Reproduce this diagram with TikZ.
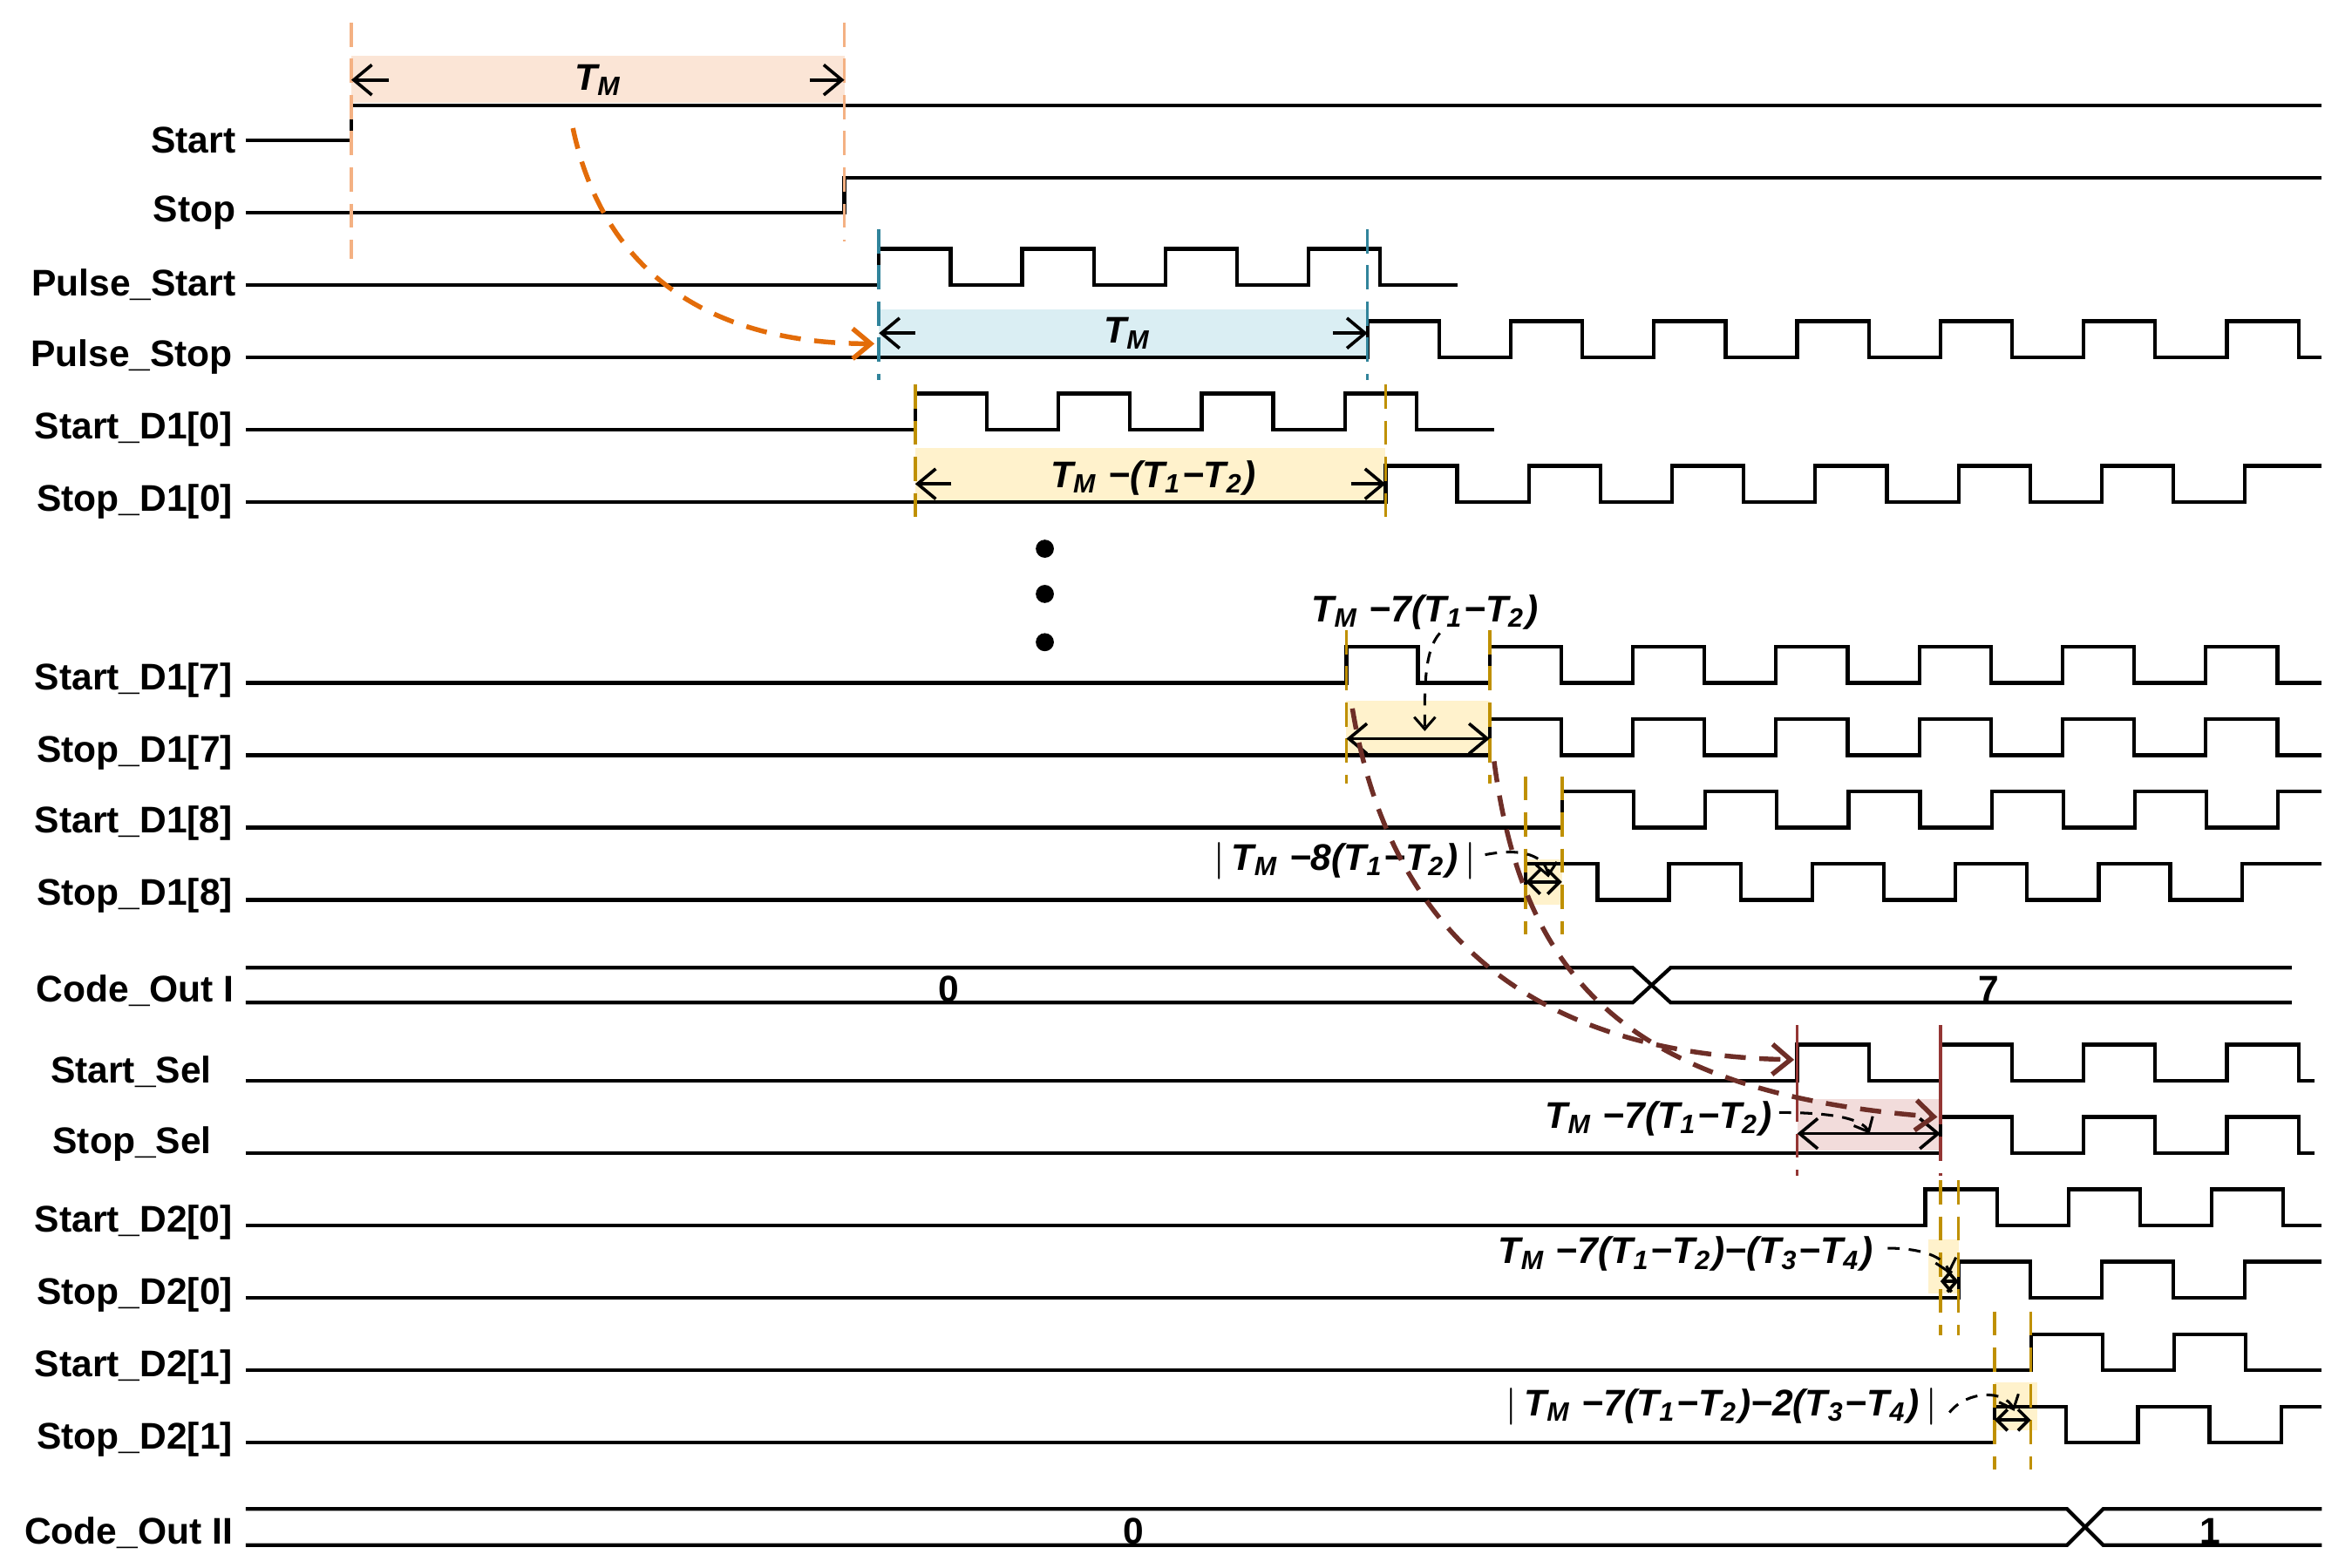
\documentclass[tikz,border=0pt]{standalone}
\usepackage{fontspec}
\setmainfont{Liberation Sans}
\usetikzlibrary{arrows.meta}
\definecolor{peachF}{HTML}{FBE5D6}
\definecolor{peachD}{HTML}{F4B183}
\definecolor{orangeC}{HTML}{E36C09}
\definecolor{blueF}{HTML}{DAEEF3}
\definecolor{tealD}{HTML}{31849B}
\definecolor{goldD}{HTML}{BF9000}
\definecolor{goldF}{HTML}{FFF2CC}
\definecolor{brownC}{HTML}{6E2E27}
\definecolor{redD}{HTML}{943634}
\definecolor{pinkF}{HTML}{F2DCDB}
\newcommand{\Ts}[1]{\textit{T}\textsubscript{\textit{#1}}}
\newcommand{\waveL}[6]{\draw[sig] (#2,#1) \foreach \k in {1,...,#4}{ -- ({#3+95*(\k-1)},#1) -- ++(0,-24) -- ++(47.5,0) -- ++(0,24)} -- (#5,#1);}
\newcommand{\waveH}[6]{\draw[sig] (#2,#1) \foreach \k in {1,...,#4}{ -- ({#3+95*(\k-1)},#1) -- ++(0,-24) -- ++(47.5,0) -- ++(0,24)} -- ({#3+95*#4},#1) -- ++(0,-24) -- (#5,{#1-24});}
\begin{document}
\begin{tikzpicture}[x=0.1mm,y=-0.1mm,
  sig/.style={line width=0.7pt,line join=miter},
  lbl/.style={anchor=east,inner sep=0pt,font=\fontsize{7}{8}\selectfont\bfseries},
  mlbl/.style={inner sep=0pt,font=\fontsize{7}{8}\selectfont\bfseries\itshape},
  vd/.style={line width=0.6pt,dash pattern=on 1.6mm off 0.8mm},
  dim/.style={line width=0.6pt,{Straight Barb[length=1.2mm,width=2mm]}-{Straight Barb[length=1.2mm,width=2mm]}},
  sarr/.style={line width=0.6pt,-{Straight Barb[length=1.2mm,width=2mm]}},
  carr/.style={line width=0.5pt,dash pattern=on 0.8mm off 0.6mm,-{Straight Barb[length=0.8mm,width=1.4mm]}},
  bcarr/.style={line width=0.9pt,brownC,dash pattern=on 1.4mm off 0.9mm,-{Straight Barb[length=1.2mm,width=2mm]}}]
\useasboundingbox (0,0) rectangle (1560,1040);
% shaded regions
\fill[peachF] (233,37) rectangle (560,68);
\fill[blueF] (583,205) rectangle (907,237);
\fill[goldF] (607,297) rectangle (919,333);
\fill[goldF] (893,465) rectangle (988,501);
\fill[goldF] (1012,570) rectangle (1036,600);
\fill[pinkF] (1192,729) rectangle (1287,763);
\fill[goldF] (1279,822) rectangle (1299,858);
\fill[goldF] (1323,917) rectangle (1351,949);
% labels
\node[lbl] (l1) at (157,93) {Start};
\node[lbl] (l2) at (157,141) {Stop};
\node[lbl] (l3) at (157,189) {Pulse\_Start};
\node[lbl] (l4) at (155,237) {Pulse\_Stop};
\node[lbl] (l5) at (155,285) {Start\_D1[0]};
\node[lbl] (l6) at (155,333) {Stop\_D1[0]};
\node[lbl] (l7) at (155,451) {Start\_D1[7]};
\node[lbl] (l8) at (155,499) {Stop\_D1[7]};
\node[lbl] (l9) at (155,546) {Start\_D1[8]};
\node[lbl] (l10) at (155,594) {Stop\_D1[8]};
\node[lbl] (l11) at (156,657) {Code\_Out I};
\node[lbl] (l12) at (141,711) {Start\_Sel};
\node[lbl] (l13) at (141,759) {Stop\_Sel};
\node[lbl] (l14) at (155,811) {Start\_D2[0]};
\node[lbl] (l15) at (155,859) {Stop\_D2[0]};
\node[lbl] (l16) at (155,907) {Start\_D2[1]};
\node[lbl] (l17) at (155,955) {Stop\_D2[1]};
\node[lbl] (l18) at (155,1017) {Code\_Out II};
% signals
\draw[sig] (163,93) -- (233,93) -- (233,70) -- (1540,70);
\draw[sig] (163,141) -- (560,141) -- (560,118) -- (1540,118);
\waveL{189}{163}{583}{4}{967}{}
\waveL{237}{163}{907}{7}{1540}{}
\waveL{285}{163}{607}{4}{991}{}
\waveH{333}{163}{919}{6}{1540}{}
\waveL{453}{163}{893}{7}{1540}{}
\waveL{501}{163}{988}{6}{1540}{}
\waveH{549}{163}{1036}{5}{1540}{}
\waveH{597}{163}{1012}{5}{1540}{}
\waveL{717}{163}{1192}{4}{1535}{}
\waveL{765}{163}{1287}{3}{1535}{}
\waveL{813}{163}{1277}{3}{1540}{}
\waveH{861}{163}{1299}{2}{1540}{}
\waveL{909}{163}{1347}{2}{1540}{}
\waveH{957}{163}{1323}{2}{1540}{}
% code buses
\draw[sig] (163,642) -- (1083,642) -- (1108,665) -- (1520,665);
\draw[sig] (163,665) -- (1083,665) -- (1108,642) -- (1520,642);
\node[mlbl,font=\fontsize{7}{8}\selectfont\bfseries] (c0) at (629,656) {0};
\node[mlbl,font=\fontsize{7}{8}\selectfont\bfseries] (c7) at (1319,656) {7};
\draw[sig] (163,1001) -- (1371,1001) -- (1395,1025) -- (1540,1025);
\draw[sig] (163,1025) -- (1371,1025) -- (1395,1001) -- (1540,1001);
\node[mlbl,font=\fontsize{7}{8}\selectfont\bfseries] (c0b) at (752,1016) {0};
\node[mlbl,font=\fontsize{7}{8}\selectfont\bfseries] (c1) at (1466,1016) {1};
% dashed verticals
\draw[vd,peachD] (233,15) -- (233,172);
\draw[vd,peachD] (560,15) -- (560,160);
\draw[vd,tealD] (583,152) -- (583,252);
\draw[vd,tealD] (907,152) -- (907,252);
\draw[vd,goldD] (607,255) -- (607,347);
\draw[vd,goldD] (919,255) -- (919,347);
\draw[vd,goldD] (893,418) -- (893,520);
\draw[vd,goldD] (988,418) -- (988,520);
\draw[vd,goldD] (1012,515) -- (1012,620);
\draw[vd,goldD] (1036,515) -- (1036,620);
\draw[line width=0.6pt,redD] (1192,680) -- (1192,728);
\draw[line width=0.6pt,redD] (1287,680) -- (1287,730);
\draw[vd,redD] (1192,728) -- (1192,780);
\draw[vd,redD] (1287,730) -- (1287,780);
\draw[vd,goldD] (1287,783) -- (1287,886);
\draw[vd,goldD] (1299,783) -- (1299,886);
\draw[vd,goldD] (1323,870) -- (1323,975);
\draw[vd,goldD] (1347,870) -- (1347,975);
% dims
\coordinate (a1) at (258,53); \coordinate (a2) at (233,53);
\coordinate (a3) at (537,53); \coordinate (a4) at (560,53);
\draw[sarr] (a1) -- (a2); \draw[sarr] (a3) -- (a4);
\node[mlbl] (t1) at (397,53) {\Ts{M}};
\coordinate (b1) at (607,221); \coordinate (b2) at (583,221);
\coordinate (b3) at (884,221); \coordinate (b4) at (907,221);
\draw[sarr] (b1) -- (b2); \draw[sarr] (b3) -- (b4);
\node[mlbl] (t2) at (748,221) {\Ts{M}};
\coordinate (d1) at (631,321); \coordinate (d2) at (607,321);
\coordinate (d3) at (896,321); \coordinate (d4) at (919,321);
\draw[sarr] (d1) -- (d2); \draw[sarr] (d3) -- (d4);
\node[mlbl] (t3) at (765,317) {\Ts{M} −(\Ts{1}−\Ts{2})};
\coordinate (e1) at (893,490); \coordinate (e2) at (988,490);
\draw[dim] (e1) -- (e2);
\node[mlbl] (t4) at (945,406) {\Ts{M} −7(\Ts{1}−\Ts{2})};
\coordinate (e3) at (955,420); \coordinate (e4) at (945,485);
\draw[carr] (e3) .. controls (944,432) and (945,460) .. (e4);
\coordinate (f1) at (1012,585); \coordinate (f2) at (1036,585);
\draw[dim,{Straight Barb[length=0.8mm,width=1.6mm]}-{Straight Barb[length=0.8mm,width=1.6mm]}] (f1) -- (f2);
\node[mlbl] (t5) at (892,571) {$|$\,\Ts{M} −8(\Ts{1}−\Ts{2})\,$|$};
\coordinate (f3) at (985,567); \coordinate (f4) at (1027,582);
\draw[carr] (f3) .. controls (1010,562) and (1025,568) .. (f4);
\coordinate (g1) at (1192,752); \coordinate (g2) at (1287,752);
\draw[dim] (g1) -- (g2);
\node[mlbl] (t6) at (1100,742) {\Ts{M} −7(\Ts{1}−\Ts{2})};
\coordinate (g3) at (1180,738); \coordinate (g4) at (1240,752);
\draw[carr] (g3) .. controls (1215,738) and (1235,742) .. (g4);
\coordinate (h1) at (1287,850); \coordinate (h2) at (1299,850);
\draw[line width=0.6pt,{Straight Barb[length=0.6mm,width=1.4mm]}-{Straight Barb[length=0.6mm,width=1.4mm]}] (h1) -- (h2);
\node[mlbl] (t7) at (1118,832) {\Ts{M} −7(\Ts{1}−\Ts{2})−(\Ts{3}−\Ts{4})};
\coordinate (h3) at (1252,828); \coordinate (h4) at (1293,845);
\draw[carr] (h3) .. controls (1275,828) and (1290,834) .. (h4);
\coordinate (k1) at (1323,942); \coordinate (k2) at (1347,942);
\draw[line width=0.6pt,{Straight Barb[length=0.7mm,width=1.4mm]}-{Straight Barb[length=0.7mm,width=1.4mm]}] (k1) -- (k2);
\node[mlbl] (t8) at (1142,933) {$|$\,\Ts{M} −7(\Ts{1}−\Ts{2})−2(\Ts{3}−\Ts{4})\,$|$};
\coordinate (k3) at (1293,937); \coordinate (k4) at (1336,936);
\draw[carr] (k3) .. controls (1305,922) and (1330,922) .. (k4);
% dots
\fill (693,364) circle (6); \fill (693,394) circle (6); \fill (693,426) circle (6);
% curved arrows
\coordinate (o1) at (380,85); \coordinate (o2) at (580,228);
\draw[line width=0.9pt,orangeC,dash pattern=on 1.4mm off 0.9mm,-{Straight Barb[length=1.2mm,width=2mm]}] (o1) .. controls (400,180) and (470,228) .. (o2);
\coordinate (p1) at (897,470); \coordinate (p2) at (1190,703);
\draw[bcarr] (p1) .. controls (925,640) and (1040,700) .. (p2);
\coordinate (q1) at (991,505); \coordinate (q2) at (1285,741);
\draw[bcarr] (q1) .. controls (1010,650) and (1080,725) .. (q2);
\end{tikzpicture}
\end{document}
